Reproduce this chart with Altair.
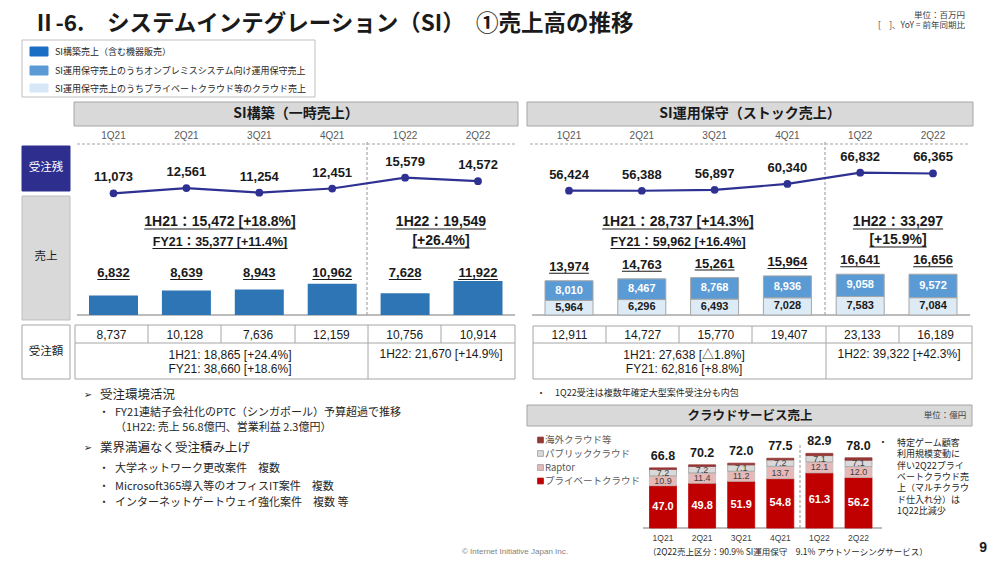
import altair as alt
import pandas as pd

# ---------------- data ----------------
quarters = ["1Q21", "2Q21", "3Q21", "4Q21", "1Q22", "2Q22"]

build_backlog = [11073, 12561, 11254, 12451, 15579, 14572]
build_sales = [6832, 8639, 8943, 10962, 7628, 11922]
build_orders = [8737, 10128, 7636, 12159, 10756, 10914]

ops_backlog = [56424, 56388, 56897, 60340, 66832, 66365]
ops_onprem = [8010, 8467, 8768, 8936, 9058, 9572]
ops_cloud = [5964, 6296, 6493, 7028, 7583, 7084]
ops_total = [13974, 14763, 15261, 15964, 16641, 16656]
ops_orders = [12911, 14727, 15770, 19407, 23133, 16189]

cloud_series = ["private", "raptor", "public", "overseas"]
cloud_names = ["プライベートクラウド", "Raptor", "パブリッククラウド", "海外クラウド等"]
cloud_private = [47.0, 49.8, 51.9, 54.8, 61.3, 56.2]
cloud_raptor = [10.9, 11.4, 11.2, 13.7, 12.1, 12.0]
cloud_public = [7.2, 7.2, 7.1, 7.2, 7.1, 7.1]
cloud_overseas = [1.7, 1.8, 1.8, 1.8, 2.4, 2.7]
cloud_total = [66.8, 70.2, 72.0, 77.5, 82.9, 78.0]

legend_labels = [
    "SI構築売上（含む機器販売）",
    "SI運用保守売上のうちオンプレミスシステム向け運用保守売上",
    "SI運用保守売上のうちプライベートクラウド等のクラウド売上",
]
build_summary = ["1H21：15,472 [+18.8%]", "FY21：35,377 [+11.4%]", "1H22：19,549", "[+26.4%]"]
ops_summary = ["1H21：28,737 [+14.3%]", "FY21：59,962 [+16.4%]", "1H22：33,297", "[+15.9%]"]
build_orders_summary = ["1H21: 18,865 [+24.4%]", "FY21: 38,660 [+18.6%]", "1H22: 21,670 [+14.9%]"]
ops_orders_summary = ["1H21: 27,638 [△1.8%]", "FY21: 62,816 [+8.8%]", "1H22: 39,322 [+42.3%]"]
cloud_note = ["特定ゲーム顧客", "利用規模変動に", "伴い2Q22プライ", "ベートクラウド売",
              "上（マルチクラウ", "ド仕入れ分）は", "1Q22比減少"]

# ---------------- styling / layout ----------------
OFF = 8
W, H = 984, 548
FONT = "Liberation Sans, Arial, Noto Sans CJK JP, DejaVu Sans, sans-serif"
JFONT = "Noto Sans CJK JP, Liberation Sans, DejaVu Sans, sans-serif"
NAVY = "#2E3192"
BLUE = "#2E75B6"
MBLUE = "#5B9BD5"
LBLUE = "#DDEBF7"
GRID = "#A6A6A6"
DARK = "#1A1A1A"
cloud_colors = ["#C00000", "#E6B9B8", "#D9D9D9", "#953735"]
cloud_strokes = ["#C00000", "#BFBFBF", "#9E9E9E", "#953735"]

page_x = alt.Scale(domain=[0, 1000], range=[-OFF, 1000 - OFF], nice=False, zero=False)
page_y = alt.Scale(domain=[0, 564], range=[-OFF, 564 - OFF], nice=False, zero=False)


def xs(a, b):
    return alt.Scale(type="point", domain=quarters, range=[a - OFF, b - OFF], padding=0)


def ys(d0, d1, r0, r1):
    return alt.Scale(domain=[d0, d1], range=[r0 - OFF, r1 - OFF], nice=False, zero=False)


def yv(v):
    return alt.value(v - OFF)


AW = {c: 0.556 for c in "0123456789"}
AW.update({",": 0.278, ".": 0.278, " ": 0.278, "[": 0.333, "]": 0.333, "+": 0.584,
           "%": 0.889, "H": 0.722, "F": 0.611, "Y": 0.667, ":": 0.333})


def est_width(s, fs):
    w = 0.0
    for c in s:
        if c in AW:
            w += AW[c]
        elif ord(c) > 0x2000:
            w += 1.0
        else:
            w += 0.6
    return w * fs


layers = []

# ---------- layout boxes ----------
rects = [
    (22, 40, 315, 97, "#FFFFFF", "#BFBFBF"),
    (74, 102, 518, 126, "#D9D9D9", GRID),
    (527, 102, 973, 126, "#D9D9D9", GRID),
    (22, 146, 70, 191, "#2E2E8F", "#2E2E8F"),
    (22, 196, 70, 320, "#D9D9D9", "#BFBFBF"),
    (22, 325, 70, 379, "#FFFFFF", GRID),
    (75, 325, 515, 379, "#FFFFFF", GRID),
    (533, 326, 972, 379, "#FFFFFF", GRID),
    (527, 405, 972, 426, "#D9D9D9", GRID),
    (30, 47, 48, 56, "#1A6FC4", "#1A6FC4"),
    (30, 66, 48, 75, MBLUE, MBLUE),
    (30, 84, 48, 92, "#D6E8F8", "#D6E8F8"),
]
rdf = pd.DataFrame(rects, columns=["x", "y", "x2", "y2", "fill", "stroke"])
layers.append(
    alt.Chart(rdf).mark_rect(strokeWidth=1).encode(
        x=alt.X("x:Q", scale=page_x, axis=None), x2="x2:Q",
        y=alt.Y("y:Q", scale=page_y, axis=None), y2="y2:Q",
        fill=alt.Fill("fill:N", scale=None, legend=None),
        stroke=alt.Stroke("stroke:N", scale=None, legend=None),
    )
)


def rule_layer(rows, color, width=1.0, dash=None):
    df = pd.DataFrame(rows, columns=["x", "y", "x2", "y2"])
    kw = dict(color=color, strokeWidth=width)
    if dash:
        kw["strokeDash"] = dash
    return alt.Chart(df).mark_rule(**kw).encode(
        x=alt.X("x:Q", scale=page_x, axis=None), x2="x2:Q",
        y=alt.Y("y:Q", scale=page_y, axis=None), y2="y2:Q",
    )


table_rules = [(75, 343, 515, 343), (533, 343, 972, 343), (368, 325, 368, 379), (826, 326, 826, 379)]
for x in [148, 221, 295, 441]:
    table_rules.append((x, 325, x, 343))
for x in [606, 679, 752, 899]:
    table_rules.append((x, 326, x, 343))
layers.append(rule_layer(table_rules, GRID, 1))
layers.append(rule_layer([(77, 315, 515, 315), (532, 315, 970, 315), (643, 528, 882, 528)], GRID, 1.5))
layers.append(rule_layer([(77, 144, 517, 144), (530, 144, 970, 144), (367, 142, 367, 316),
                          (825, 142, 825, 316), (800, 445, 800, 528)], GRID, 1.2, [3, 2]))

# legend squares of the cloud chart
sq = pd.DataFrame({"x": [540.5] * 4, "y": [481, 467.5, 453.5, 440],
                   "fill": cloud_colors, "stroke": ["#C00000", "#9E9E9E", "#9E9E9E", "#953735"]})
layers.append(
    alt.Chart(sq).mark_square(size=34, opacity=1, strokeWidth=0.8).encode(
        x=alt.X("x:Q", scale=page_x, axis=None), y=alt.Y("y:Q", scale=page_y, axis=None),
        fill=alt.Fill("fill:N", scale=None, legend=None),
        stroke=alt.Stroke("stroke:N", scale=None, legend=None),
    )
)

# ---------- page texts ----------
texts = []


def T(x, y, t, fs, color=DARK, weight="normal", align="left", font=FONT):
    texts.append((x, y, t, fs, color, weight, align, font))


underlines = []


def TU(x, y, t, fs, under=7):
    T(x, y, t, fs, DARK, "bold", "center")
    w = est_width(t, fs)
    underlines.append((x - w / 2, y + under, x + w / 2, y + under))


T(33, 24, "Ⅱ-6.　システムインテグレーション（SI）　①売上高の推移", 22.5, DARK, "bold", "left", JFONT)
T(965, 14.5, "単位：百万円", 8.5, "#404040", "normal", "right", JFONT)
T(965, 25, "[　]、YoY = 前年同期比", 8.5, "#404040", "normal", "right", JFONT)
for lab, y in zip(legend_labels, [51.5, 70.5, 88.5]):
    T(55, y, lab, 9, "#262626", "normal", "left", JFONT)
T(296, 114, "SI構築（一時売上）", 14, DARK, "bold", "center", JFONT)
T(750, 114, "SI運用保守（ストック売上）", 14, DARK, "bold", "center", JFONT)
T(46, 168, "受注残", 11.5, "#FFFFFF", "normal", "center", JFONT)
T(46, 257, "売上", 11.5, DARK, "normal", "center", JFONT)
T(46, 352, "受注額", 11.5, DARK, "normal", "center", JFONT)

TU(220, 222, build_summary[0], 14)
TU(220, 242, build_summary[1], 12.5, 6.5)
TU(441, 222, build_summary[2], 14)
TU(441, 241, build_summary[3], 14)
TU(678, 222, ops_summary[0], 14)
TU(678, 242, ops_summary[1], 12.5, 6.5)
TU(898, 222, ops_summary[2], 14)
TU(898, 240, ops_summary[3], 14)

T(230, 355, build_orders_summary[0], 12, DARK, "normal", "center")
T(230, 369, build_orders_summary[1], 12, DARK, "normal", "center")
T(441, 354, build_orders_summary[2], 12, DARK, "normal", "center")
T(684, 355, ops_orders_summary[0], 12, DARK, "normal", "center")
T(684, 369, ops_orders_summary[1], 12, DARK, "normal", "center")
T(899, 354, ops_orders_summary[2], 12, DARK, "normal", "center")

T(541, 393, "・", 9, "#262626", "normal", "center", JFONT)
T(555, 393, "1Q22受注は複数年確定大型案件受注分も内包", 9, "#262626", "normal", "left", JFONT)

T(88, 395, "➢", 10, "#262626", "normal", "center", "DejaVu Sans")
T(100, 395, "受注環境活況", 12.5, "#262626", "normal", "left", JFONT)
T(104, 413, "・", 11, "#262626", "normal", "center", JFONT)
T(115, 413, "FY21連結子会社化のPTC（シンガポール）予算超過で推移", 11, "#262626", "normal", "left", JFONT)
T(115, 428, "（1H22: 売上 56.8億円、営業利益 2.3億円）", 11, "#262626", "normal", "left", JFONT)
T(88, 448, "➢", 10, "#262626", "normal", "center", "DejaVu Sans")
T(100, 448, "業界満遍なく受注積み上げ", 12.5, "#262626", "normal", "left", JFONT)
for y, t in [(469, "大学ネットワーク更改案件　複数"),
             (487, "Microsoft365導入等のオフィスIT案件　複数"),
             (503, "インターネットゲートウェイ強化案件　複数 等")]:
    T(104, y, "・", 11, "#262626", "normal", "center", JFONT)
    T(115, y, t, 11, "#262626", "normal", "left", JFONT)

T(750, 416, "クラウドサービス売上", 12.5, DARK, "bold", "center", JFONT)
T(945, 415, "単位：億円", 8.5, "#404040", "normal", "center", JFONT)
for name, y in zip(cloud_names, [481, 467.5, 453.5, 440]):
    T(545, y, name, 9.5, "#595959", "normal", "left", JFONT)
T(883, 443, "・", 10, "#262626", "normal", "center", JFONT)
for i, line in enumerate(cloud_note):
    T(897, 443 + 11.3 * i, line, 9, "#262626", "normal", "left", JFONT)
T(648, 551.5, "（2Q22売上区分：90.9% SI運用保守　9.1% アウトソーシングサービス）", 8.5, "#262626", "normal", "left", JFONT)
T(462, 552, "© Internet Initiative Japan Inc.", 8, "#7F7F7F", "normal", "left", FONT)
T(987, 548, "9", 14, DARK, "bold", "right", FONT)

tdf = pd.DataFrame(texts, columns=["x", "y", "t", "fs", "c", "weight", "align", "font"])
for (weight, align, font), g in tdf.groupby(["weight", "align", "font"]):
    layers.append(
        alt.Chart(g.drop(columns=["weight", "align", "font"])).mark_text(
            font=font, fontWeight=weight, align=align, baseline="middle"
        ).encode(
            x=alt.X("x:Q", scale=page_x, axis=None), y=alt.Y("y:Q", scale=page_y, axis=None),
            text="t:N", size=alt.Size("fs:Q", scale=None, legend=None),
            color=alt.Color("c:N", scale=None, legend=None),
        )
    )
layers.append(rule_layer(underlines, DARK, 1))

# ---------- SI構築 panel ----------
left = pd.DataFrame({"q": quarters, "backlog": build_backlog, "sales": build_sales, "orders": build_orders})
xl = xs(113.5, 478)
xl_t = xs(111.5, 478)
yl_line = ys(10000, 16000, 197.0, 176.2)
yl_bar = ys(0, 12000, 315, 280.8)

# ---------- SI運用保守 panel ----------
right = pd.DataFrame({"q": quarters, "backlog": ops_backlog, "total": ops_total, "orders": ops_orders})
right_long = pd.DataFrame({
    "q": quarters * 2,
    "series": ["cloud"] * 6 + ["onprem"] * 6,
    "value": ops_cloud + ops_onprem,
    "ord": [0] * 6 + [1] * 6,
})
xr = xs(569, 933)
xr_t = xs(569.5, 935.5)
yr_line = ys(50000, 70000, 201.8, 167.2)
yr_bar = ys(0, 20000, 315, 266)


def underline_tick(df, field, xsc, yenc, fs, yoff=0.0):
    return alt.Chart(df).transform_calculate(
        w=f"(length(format(datum.{field}, ',')) - 1) * {0.556 * fs} + {0.278 * fs}"
    ).mark_tick(orient="horizontal", thickness=1, color=DARK, opacity=1, yOffset=yoff).encode(
        x=alt.X("q:O", scale=xsc, axis=None), y=yenc,
        size=alt.Size("w:Q", scale=None, legend=None),
    )


for df, xsc, ysc, xt in [(left, xl, yl_line, xl_t), (right, xr, yr_line, xr_t)]:
    base = alt.Chart(df)
    layers.append(base.mark_text(font=FONT, fontSize=10, color="#595959").encode(
        x=alt.X("q:O", scale=xsc, axis=None), y=yv(136), text="q:N"))
    layers.append(base.mark_line(color=NAVY, strokeWidth=2.2).encode(
        x=alt.X("q:O", scale=xsc, axis=None), y=alt.Y("backlog:Q", scale=ysc, axis=None)))
    layers.append(base.mark_circle(color=NAVY, size=60, opacity=1).encode(
        x=alt.X("q:O", scale=xsc, axis=None), y=alt.Y("backlog:Q", scale=ysc, axis=None)))
    layers.append(base.mark_text(font=FONT, fontSize=13, fontWeight="bold", color=DARK, dy=-16).encode(
        x=alt.X("q:O", scale=xsc, axis=None), y=alt.Y("backlog:Q", scale=ysc, axis=None),
        text=alt.Text("backlog:Q", format=",")))
    layers.append(base.mark_text(font=FONT, fontSize=12, color=DARK).encode(
        x=alt.X("q:O", scale=xt, axis=None), y=yv(335), text=alt.Text("orders:Q", format=",")))

# left bars
lb = alt.Chart(left)
layers.append(lb.mark_bar(width=49, color=BLUE).encode(
    x=alt.X("q:O", scale=xl, axis=None), y=alt.Y("sales:Q", scale=yl_bar, axis=None)))
layers.append(lb.mark_text(font=FONT, fontSize=13, fontWeight="bold", color=DARK).encode(
    x=alt.X("q:O", scale=xl, axis=None), y=yv(273), text=alt.Text("sales:Q", format=",")))
layers.append(underline_tick(left, "sales", xl, yv(279.5), 13))

# right stacked bars
layers.append(alt.Chart(right_long).mark_bar(width=48, stroke=GRID, strokeWidth=1).encode(
    x=alt.X("q:O", scale=xr, axis=None),
    y=alt.Y("value:Q", stack="zero", scale=yr_bar, axis=None),
    color=alt.Color("series:N", scale=alt.Scale(domain=["cloud", "onprem"], range=[LBLUE, MBLUE]), legend=None),
    order=alt.Order("ord:Q"),
))
layers.append(alt.Chart(right_long).transform_stack(
    stack="value", groupby=["q"], as_=["v0", "v1"], sort=[alt.SortField("ord", order="ascending")]
).transform_calculate(mid="(datum.v0 + datum.v1) / 2").mark_text(
    font=FONT, fontSize=11, fontWeight="bold"
).encode(
    x=alt.X("q:O", scale=xr, axis=None), y=alt.Y("mid:Q", scale=yr_bar, axis=None),
    text=alt.Text("value:Q", format=","),
    color=alt.condition("datum.series == 'onprem'", alt.value("#FFFFFF"), alt.value(DARK)),
))
rb = alt.Chart(right)
layers.append(rb.mark_text(font=FONT, fontSize=13, fontWeight="bold", color=DARK, dy=-14).encode(
    x=alt.X("q:O", scale=xr, axis=None), y=alt.Y("total:Q", scale=yr_bar, axis=None),
    text=alt.Text("total:Q", format=",")))
layers.append(underline_tick(right, "total", xr, alt.Y("total:Q", scale=yr_bar, axis=None), 13, -7.5))

# ---------- cloud chart ----------
cloud_long = pd.DataFrame({
    "q": quarters * 4,
    "series": sum([[s] * 6 for s in cloud_series], []),
    "value": cloud_private + cloud_raptor + cloud_public + cloud_overseas,
    "ord": sum([[i] * 6 for i in range(4)], []),
})
cloud_tot = pd.DataFrame({"q": quarters, "total": cloud_total})
xc = xs(663, 858.5)
yc = ys(0, 100, 528, 438)

layers.append(alt.Chart(cloud_long).mark_bar(width=27, strokeWidth=0.8).encode(
    x=alt.X("q:O", scale=xc, axis=None),
    y=alt.Y("value:Q", stack="zero", scale=yc, axis=None),
    color=alt.Color("series:N", scale=alt.Scale(domain=cloud_series, range=cloud_colors), legend=None),
    stroke=alt.Stroke("series:N", scale=alt.Scale(domain=cloud_series, range=cloud_strokes), legend=None),
    order=alt.Order("ord:Q"),
))
cstack = alt.Chart(cloud_long).transform_stack(
    stack="value", groupby=["q"], as_=["v0", "v1"], sort=[alt.SortField("ord", order="ascending")]
).transform_calculate(mid="(datum.v0 + datum.v1) / 2")
layers.append(cstack.transform_filter("datum.series == 'private'").mark_text(
    font=FONT, fontSize=11, fontWeight="bold", color="#FFFFFF").encode(
    x=alt.X("q:O", scale=xc, axis=None), y=alt.Y("mid:Q", scale=yc, axis=None),
    text=alt.Text("value:Q", format=".1f")))
layers.append(cstack.transform_filter("datum.series == 'raptor' || datum.series == 'public'").mark_text(
    font=FONT, fontSize=9, color="#404040").encode(
    x=alt.X("q:O", scale=xc, axis=None), y=alt.Y("mid:Q", scale=yc, axis=None),
    text=alt.Text("value:Q", format=".1f")))
ct = alt.Chart(cloud_tot)
layers.append(ct.mark_text(font=FONT, fontSize=12.5, fontWeight="bold", color=DARK, dy=-12).encode(
    x=alt.X("q:O", scale=xc, axis=None), y=alt.Y("total:Q", scale=yc, axis=None),
    text=alt.Text("total:Q", format=".1f")))
layers.append(ct.mark_text(font=FONT, fontSize=8.5, color="#404040").encode(
    x=alt.X("q:O", scale=xc, axis=None), y=yv(538), text="q:N"))

chart = alt.layer(*layers).resolve_scale(
    x="independent", y="independent", color="independent", size="independent",
    stroke="independent", fill="independent",
).properties(
    width=W, height=H, padding=0, autosize=alt.AutoSizeParams(type="none"), background="#FFFFFF",
).configure_view(strokeWidth=0)

chart.save("out.html", embed_options={"renderer": "svg", "actions": False})
